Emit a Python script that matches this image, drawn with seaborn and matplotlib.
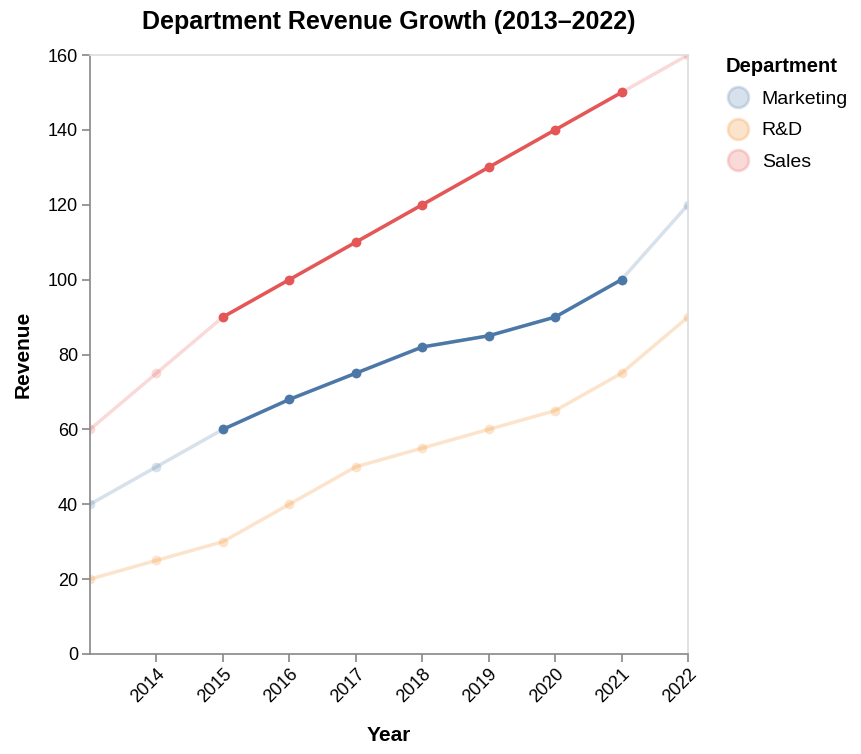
import matplotlib
matplotlib.use("Agg")
import matplotlib.pyplot as plt
import seaborn as sns
import pandas as pd
from matplotlib.lines import Line2D

years = [2013, 2014, 2015, 2016, 2017, 2018, 2019, 2020, 2021, 2022]
marketing = [40, 50, 60, 68, 75, 82, 85, 90, 100, 120]
rnd = [20, 25, 30, 40, 50, 55, 60, 65, 75, 90]
sales = [60, 75, 90, 100, 110, 120, 130, 140, 150, 160]
departments = ["Marketing", "R&D", "Sales"]
highlight_depts = ["Marketing", "Sales"]
highlight_years = [2015, 2021]

colors = {"Marketing": "#4c78a8", "R&D": "#f58518", "Sales": "#e45756"}

rows = []
for d, vals in zip(departments, [marketing, rnd, sales]):
    for y, v in zip(years, vals):
        rows.append({"Year": y, "Revenue": v, "Department": d})
df = pd.DataFrame(rows)

sns.set_theme(style="white")
plt.rcParams["font.family"] = ["Liberation Sans", "DejaVu Sans"]
plt.rcParams["text.color"] = "black"
plt.rcParams["axes.labelcolor"] = "black"
plt.rcParams["xtick.color"] = "black"
plt.rcParams["ytick.color"] = "black"

fig = plt.figure(figsize=(8.62, 7.54), dpi=100)
ax = fig.add_axes([90/862, 100/754, 598/862, 599/754])

# faded full series
sns.lineplot(data=df, x="Year", y="Revenue", hue="Department", palette=colors,
             hue_order=departments, marker="o", markersize=7, markeredgewidth=0,
             linewidth=2.5, alpha=0.22, legend=False, ax=ax, zorder=2)

# highlighted segments
hl = df[df["Department"].isin(highlight_depts) &
        df["Year"].between(highlight_years[0], highlight_years[1])]
sns.lineplot(data=hl, x="Year", y="Revenue", hue="Department", palette=colors,
             hue_order=highlight_depts, marker="o", markersize=7, markeredgewidth=0,
             linewidth=2.5, alpha=1.0, legend=False, ax=ax, zorder=3)

ax.set_xlim(2013, 2022)
ax.set_ylim(0, 160)
ax.set_xticks(years[1:])
ax.set_xticklabels([str(y) for y in years[1:]], rotation=45, ha="right",
                   va="top", rotation_mode="anchor", fontsize=13)
ax.set_yticks(range(0, 161, 20))
ax.tick_params(axis="y", labelsize=13)
ax.tick_params(axis="both", which="both", length=5.5, width=1.2, color="#888888",
               labelcolor="black", left=True, bottom=True, pad=3)
ax.grid(False)
for s in ["left", "bottom"]:
    ax.spines[s].set_color("#888888")
    ax.spines[s].set_linewidth(1.2)
for s in ["top", "right"]:
    ax.spines[s].set_color("#dddddd")
    ax.spines[s].set_linewidth(1.2)

ax.set_xlabel("Year", fontsize=15, fontweight="bold", labelpad=14)
ax.set_ylabel("Revenue", fontsize=15, fontweight="bold", labelpad=11)
ax.set_title("Department Revenue Growth (2013\u20132022)", fontsize=18,
             fontweight="bold", pad=19)

handles = [Line2D([0], [0], marker="o", linestyle="", markersize=15,
                  markerfacecolor=colors[d], markeredgecolor=colors[d],
                  markeredgewidth=2, alpha=0.22) for d in departments]
leg = ax.legend(handles, departments, title="Department", loc="upper left",
                bbox_to_anchor=(1.05, 1.01), frameon=False, fontsize=14,
                title_fontproperties={"weight": "bold", "size": 14.5},
                handletextpad=0.55, labelspacing=0.73, borderaxespad=0,
                handlelength=1.3)
leg._legend_box.align = "left"

fig.savefig("out.png", dpi=100)
